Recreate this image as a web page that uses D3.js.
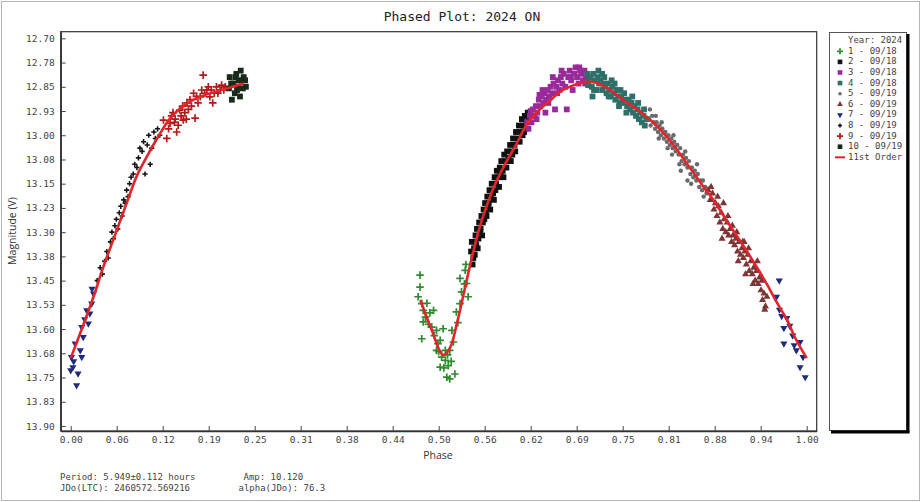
<!DOCTYPE html>
<html><head><meta charset="utf-8">
<script src="https://cdn.jsdelivr.net/npm/d3@7"></script>
<style>
html,body{margin:0;padding:0;background:#fff;}
svg{display:block;}
</style></head>
<body>
<script>
// ---------- DATA ----------
const titleText = "Phased Plot: 2024 ON";
const xTickValues = [0,0.0625,0.125,0.1875,0.25,0.3125,0.375,0.4375,0.5,0.5625,0.625,0.6875,0.75,0.8125,0.875,0.9375,1.0];
const xTickLabels = ["0.00","0.06","0.12","0.19","0.25","0.31","0.38","0.44","0.50","0.56","0.62","0.69","0.75","0.81","0.88","0.94","1.00"];
const yTickValues = [12.70,12.775,12.85,12.925,13.00,13.075,13.15,13.225,13.30,13.375,13.45,13.525,13.60,13.675,13.75,13.825,13.90];
const yTickLabels = ["12.70","12.78","12.85","12.93","13.00","13.08","13.15","13.23","13.30","13.38","13.45","13.53","13.60","13.68","13.75","13.83","13.90"];
const seriesNames = ["1 - 09/18","2 - 09/18","3 - 09/18","4 - 09/18","5 - 09/19","6 - 09/19","7 - 09/19","8 - 09/19","9 - 09/19","10 - 09/19"];
const fitName = "11st Order";
const legendTitle = "Year: 2024";
const footerLines = [["Period: 5.949\u00b10.112 hours","Amp: 10.120"],["JDo(LTC): 2460572.569216","alpha(JDo): 76.3"]];

const s1 = [[0.4746,13.433],[0.4746,13.47],[0.472,13.50],[0.477,13.521],[0.479,13.542],[0.482,13.563],[0.479,13.578],[0.477,13.63],[0.488,13.55],[0.493,13.542],[0.4905,13.594],[0.497,13.604],[0.502,13.635],[0.497,13.666],[0.504,13.687],[0.502,13.718],[0.509,13.697],[0.511,13.749],[0.515,13.754],[0.522,13.739],[0.515,13.666],[0.518,13.604],[0.524,13.547],[0.529,13.521],[0.531,13.485],[0.529,13.443],[0.536,13.418],[0.538,13.459],[0.540,13.50],[0.506,13.599],[0.509,13.666],[0.513,13.713],[0.499,13.645],[0.484,13.52],[0.486,13.585],[0.494,13.62],[0.507,13.72],[0.52,13.64],[0.526,13.58],[0.535,13.46],[0.512,13.68],[0.5,13.67],[0.517,13.70],[0.537,13.40]];
const s2 = [[0.544,13.36],[0.545,13.33],[0.547,13.38],[0.548,13.35],[0.550,13.31],[0.551,13.34],[0.552,13.29],[0.554,13.32],[0.555,13.27],[0.557,13.29],[0.558,13.25],[0.560,13.27],[0.561,13.23],[0.563,13.21],[0.564,13.24],[0.566,13.19],[0.568,13.21],[0.569,13.17],[0.571,13.19],[0.572,13.15],[0.574,13.18],[0.576,13.13],[0.578,13.15],[0.579,13.11],[0.581,13.13],[0.583,13.10],[0.585,13.08],[0.587,13.11],[0.589,13.06],[0.591,13.08],[0.593,13.05],[0.595,13.07],[0.597,13.03],[0.599,13.05],[0.601,13.01],[0.603,13.03],[0.605,12.99],[0.607,13.01],[0.609,12.97],[0.611,12.99],[0.613,12.95],[0.615,12.97],[0.617,12.94],[0.619,12.96],[0.621,12.93],[0.577,13.17],[0.562,13.26],[0.556,13.30],[0.549,13.37],[0.546,13.40],[0.553,13.35],[0.559,13.31],[0.565,13.25],[0.570,13.23],[0.575,13.20],[0.582,13.16],[0.588,13.13],[0.592,13.10],[0.598,13.08],[0.604,13.05],[0.610,13.02],[0.614,13.00],[0.618,12.98],[0.622,12.95],[0.550,13.33],[0.567,13.22],[0.584,13.12],[0.600,13.06],[0.616,12.99]];
const s3 = [[0.620,12.96],[0.622,12.98],[0.624,12.94],[0.626,12.96],[0.628,12.92],[0.630,12.94],[0.632,12.91],[0.634,12.93],[0.636,12.89],[0.638,12.91],[0.640,12.88],[0.642,12.90],[0.644,12.87],[0.646,12.89],[0.648,12.86],[0.650,12.88],[0.652,12.85],[0.654,12.87],[0.656,12.84],[0.658,12.92],[0.660,12.85],[0.662,12.83],[0.664,12.86],[0.666,12.82],[0.668,12.84],[0.670,12.81],[0.672,12.85],[0.674,12.92],[0.676,12.82],[0.678,12.80],[0.680,12.83],[0.682,12.86],[0.684,12.81],[0.686,12.79],[0.688,12.82],[0.690,12.84],[0.692,12.80],[0.694,12.81],[0.696,12.83],[0.698,12.80],[0.700,12.82],[0.645,12.93],[0.633,12.95],[0.625,12.925],[0.637,12.875],[0.649,12.90],[0.661,12.87],[0.667,12.80],[0.679,12.82],[0.691,12.79],[0.699,12.84],[0.655,12.82],[0.641,12.86]];
const s4 = [[0.702,12.81],[0.704,12.83],[0.706,12.82],[0.708,12.85],[0.710,12.81],[0.712,12.83],[0.714,12.86],[0.716,12.82],[0.718,12.84],[0.720,12.83],[0.722,12.86],[0.724,12.84],[0.726,12.85],[0.728,12.87],[0.730,12.84],[0.732,12.86],[0.734,12.88],[0.736,12.85],[0.738,12.87],[0.740,12.89],[0.742,12.86],[0.744,12.88],[0.746,12.90],[0.748,12.88],[0.750,12.90],[0.752,12.87],[0.754,12.89],[0.756,12.91],[0.758,12.89],[0.760,12.92],[0.762,12.90],[0.764,12.93],[0.766,12.91],[0.768,12.94],[0.770,12.92],[0.772,12.95],[0.774,12.93],[0.776,12.96],[0.778,12.94],[0.780,12.97],[0.709,12.88],[0.722,12.81],[0.703,12.845],[0.711,12.86],[0.717,12.80],[0.725,12.82],[0.731,12.88],[0.739,12.84],[0.747,12.86],[0.755,12.93],[0.763,12.88],[0.771,12.90],[0.779,12.92],[0.783,12.95],[0.745,12.91],[0.735,12.83]];
const s5 = [[0.786,12.95],[0.788,12.97],[0.790,12.94],[0.792,12.96],[0.794,12.98],[0.796,12.96],[0.798,12.99],[0.800,12.97],[0.802,13.00],[0.804,12.98],[0.806,13.01],[0.808,12.99],[0.810,13.02],[0.812,13.00],[0.814,13.03],[0.816,13.01],[0.818,13.04],[0.820,13.02],[0.822,13.05],[0.824,13.03],[0.826,13.06],[0.828,13.04],[0.830,13.08],[0.832,13.06],[0.834,13.09],[0.836,13.07],[0.838,13.10],[0.840,13.08],[0.842,13.12],[0.844,13.10],[0.846,13.13],[0.848,13.11],[0.850,13.14],[0.852,13.12],[0.854,13.16],[0.856,13.14],[0.858,13.17],[0.860,13.19],[0.862,13.16],[0.838,13.14],[0.829,13.11],[0.787,12.92],[0.795,12.94],[0.803,12.96],[0.811,13.04],[0.819,13.00],[0.827,13.09],[0.835,13.05],[0.843,13.15],[0.851,13.09],[0.859,13.14],[0.864,13.18],[0.799,13.01],[0.817,13.06]];
const s6 = [[0.866,13.17],[0.869,13.20],[0.872,13.18],[0.874,13.23],[0.876,13.21],[0.878,13.25],[0.880,13.22],[0.882,13.27],[0.884,13.24],[0.886,13.29],[0.888,13.26],[0.890,13.30],[0.892,13.27],[0.894,13.31],[0.896,13.29],[0.898,13.33],[0.900,13.31],[0.902,13.34],[0.904,13.32],[0.906,13.36],[0.908,13.33],[0.910,13.37],[0.912,13.35],[0.914,13.38],[0.916,13.36],[0.918,13.40],[0.920,13.37],[0.922,13.42],[0.924,13.39],[0.926,13.43],[0.928,13.41],[0.930,13.45],[0.932,13.42],[0.934,13.46],[0.936,13.44],[0.938,13.48],[0.940,13.51],[0.942,13.49],[0.944,13.53],[0.946,13.50],[0.887,13.21],[0.913,13.33],[0.870,13.16],[0.879,13.19],[0.885,13.32],[0.893,13.25],[0.899,13.28],[0.907,13.39],[0.915,13.33],[0.921,13.35],[0.927,13.46],[0.933,13.39],[0.939,13.45],[0.943,13.54],[0.905,13.30],[0.917,13.43]];
const s7 = [[0.9627,13.45],[0.959,13.50],[0.963,13.54],[0.973,13.566],[0.969,13.597],[0.981,13.62],[0.991,13.64],[0.986,13.666],[0.995,13.687],[0.991,13.718],[0.998,13.749],[0.969,13.645],[0.977,13.59],[0.983,13.65],[0.966,13.56],[0.001,13.687],[0.003,13.718],[0.0,13.728],[0.010,13.738],[0.008,13.774],[0.006,13.645],[0.015,13.687],[0.017,13.625],[0.015,13.594],[0.024,13.583],[0.026,13.552],[0.0217,13.542],[0.0285,13.521],[0.031,13.49],[0.029,13.475],[0.013,13.666],[0.004,13.70],[0.019,13.57]];
const s8 = [[0.036,13.45],[0.040,13.41],[0.043,13.43],[0.046,13.39],[0.049,13.36],[0.051,13.38],[0.054,13.33],[0.056,13.30],[0.058,13.32],[0.060,13.28],[0.062,13.26],[0.064,13.29],[0.066,13.24],[0.068,13.22],[0.070,13.25],[0.072,13.20],[0.074,13.21],[0.076,13.17],[0.078,13.19],[0.080,13.15],[0.082,13.13],[0.085,13.12],[0.087,13.09],[0.090,13.10],[0.092,13.07],[0.094,13.04],[0.097,13.05],[0.099,13.02],[0.101,13.12],[0.104,13.03],[0.106,13.00],[0.108,13.09],[0.110,13.04],[0.113,12.99],[0.115,13.01],[0.118,12.98],[0.121,13.00]];
const s9 = [[0.126,12.953],[0.1305,13.01],[0.133,12.98],[0.135,12.963],[0.137,12.94],[0.139,12.93],[0.141,12.96],[0.144,12.99],[0.146,12.969],[0.148,12.922],[0.150,12.94],[0.152,12.91],[0.153,12.953],[0.155,12.93],[0.158,12.90],[0.160,12.92],[0.162,12.89],[0.164,12.91],[0.167,12.87],[0.169,12.947],[0.171,12.88],[0.173,12.90],[0.176,12.881],[0.178,12.86],[0.180,12.814],[0.182,12.87],[0.185,12.86],[0.187,12.85],[0.189,12.881],[0.191,12.86],[0.193,12.90],[0.195,12.87],[0.198,12.85],[0.200,12.87],[0.203,12.86],[0.205,12.845],[0.208,12.86],[0.210,12.85],[0.142,12.95],[0.157,12.95]];
const s10 = [[0.215,12.855],[0.216,12.82],[0.218,12.84],[0.219,12.89],[0.221,12.84],[0.223,12.87],[0.224,12.82],[0.225,12.81],[0.227,12.85],[0.228,12.83],[0.230,12.88],[0.231,12.80],[0.232,12.83],[0.234,12.855],[0.235,12.82],[0.237,12.83],[0.238,12.85],[0.226,12.86]];
const fitSeg1 = [[0.0,13.69],[0.015,13.60],[0.031,13.50],[0.044,13.41],[0.06,13.31],[0.076,13.21],[0.09,13.125],[0.105,13.06],[0.12,13.00],[0.135,12.948],[0.15,12.915],[0.167,12.89],[0.183,12.875],[0.198,12.865],[0.215,12.853],[0.235,12.84]];
const fitSeg2 = [[0.475,13.51],[0.49,13.60],[0.506,13.68],[0.515,13.66],[0.525,13.58],[0.535,13.48],[0.545,13.38],[0.555,13.29],[0.565,13.22],[0.575,13.16],[0.59,13.09],[0.605,13.03],[0.62,12.965],[0.635,12.925],[0.65,12.895],[0.665,12.865],[0.68,12.848],[0.70,12.835],[0.715,12.838],[0.733,12.86],[0.75,12.89],[0.778,12.934],[0.80,12.98],[0.819,13.03],[0.841,13.10],[0.86,13.16],[0.873,13.20],[0.89,13.26],[0.909,13.325],[0.93,13.40],[0.9457,13.46],[0.96,13.52],[0.973,13.57],[0.985,13.63],[1.0,13.69]];

// ---------- STYLE ----------
const W = 921, H = 502;
const plot = {left: 60.7, right: 816.7, top: 31.7, bottom: 431};
const mono = "'DejaVu Sans Mono', 'Liberation Mono', monospace";
const sans = "'Open Sans', 'Noto Sans', sans-serif";
const seriesStyle = [
  {sym: "plus", color: "#2e8b2e"},
  {sym: "square", color: "#111111"},
  {sym: "square", color: "#9a2a9a"},
  {sym: "square", color: "#2f6f68"},
  {sym: "dot", color: "#6a6a6a"},
  {sym: "tri", color: "#7d3535"},
  {sym: "tridown", color: "#1f2a7a"},
  {sym: "smallplus", color: "#151515"},
  {sym: "plus", color: "#b41a1a"},
  {sym: "square", color: "#1a2a1a"}
];
const seriesData = [s1,s2,s3,s4,s5,s6,s7,s8,s9,s10];

const svg = d3.select("body").append("svg").attr("width", W).attr("height", H);
svg.append("rect").attr("x",0).attr("y",0).attr("width",W).attr("height",H).attr("fill","#fff");
svg.append("rect").attr("x",1.5).attr("y",1.5).attr("width",W-3).attr("height",H-3)
  .attr("fill","none").attr("stroke","#b5b5b5").attr("stroke-width",1);

const x = d3.scaleLinear().domain([-0.0136, 1.0136]).range([plot.left, plot.right]);
const y = d3.scaleLinear().domain([12.6795, 13.9155]).range([plot.top, plot.bottom]);

// title
svg.append("text").attr("x", 462).attr("y", 17).attr("text-anchor","middle")
  .attr("dominant-baseline","middle").attr("font-family", mono).attr("font-size", 13)
  .attr("fill","#222").text(titleText);

// clip
svg.append("clipPath").attr("id","clip").append("rect")
  .attr("x",plot.left).attr("y",plot.top).attr("width",plot.right-plot.left).attr("height",plot.bottom-plot.top);

// frame
svg.append("rect").attr("x",plot.left).attr("y",plot.top).attr("width",plot.right-plot.left)
  .attr("height",plot.bottom-plot.top).attr("fill","none").attr("stroke","#333").attr("stroke-width",1.2);

// axes
const xAxis = d3.axisBottom(x).tickValues(xTickValues).tickFormat((d,i)=>xTickLabels[i])
  .tickSizeInner(-5).tickSizeOuter(0).tickPadding(5);
const gx = svg.append("g").attr("transform",`translate(0,${plot.bottom})`).call(xAxis);
const yAxis = d3.axisLeft(y).tickValues(yTickValues).tickFormat((d,i)=>yTickLabels[i])
  .tickSizeInner(-5).tickSizeOuter(0).tickPadding(6);
const gy = svg.append("g").attr("transform",`translate(${plot.left},0)`).call(yAxis);
[gx,gy].forEach(g=>{
  g.selectAll(".domain").attr("stroke","#333").attr("stroke-width",1.5);
  g.selectAll(".tick line").attr("stroke","#444");
  g.selectAll(".tick text").attr("font-family",mono).attr("font-size",9.5).attr("fill","#444");
});

// axis titles
svg.append("text").attr("x",438).attr("y",456).attr("text-anchor","middle").attr("dominant-baseline","middle")
  .attr("font-family",sans).attr("font-size",10.5).attr("fill","#333").text("Phase");
svg.append("text").attr("transform","translate(13,231) rotate(-90)").attr("text-anchor","middle")
  .attr("dominant-baseline","middle").attr("font-family",sans).attr("font-size",10.5).attr("fill","#333").text("Magnitude (V)");

// markers
function drawMarker(g, sym, color, cx, cy, scale){
  const k = scale || 1;
  if (sym === "plus" || sym === "smallplus") {
    const r = (sym === "plus" ? 3.8 : 2.6) * k;
    g.append("path").attr("d",`M${cx-r},${cy}H${cx+r}M${cx},${cy-r}V${cy+r}`)
      .attr("stroke",color).attr("stroke-width", sym==="plus"?1.7:1.6).attr("fill","none");
  } else if (sym === "square") {
    const s = 5.8*k;
    g.append("rect").attr("x",cx-s/2).attr("y",cy-s/2).attr("width",s).attr("height",s).attr("fill",color);
  } else if (sym === "dot") {
    g.append("circle").attr("cx",cx).attr("cy",cy).attr("r",2.2*k).attr("fill",color);
  } else if (sym === "tri") {
    g.append("path").attr("d",d3.symbol(d3.symbolTriangle, 22*k*k)()).attr("transform",`translate(${cx},${cy})`).attr("fill",color);
  } else if (sym === "tridown") {
    g.append("path").attr("d",d3.symbol(d3.symbolTriangle, 22*k*k)()).attr("transform",`translate(${cx},${cy}) rotate(180)`).attr("fill",color);
  }
}

const gPts = svg.append("g").attr("clip-path","url(#clip)");
seriesData.forEach((data, i) => {
  const st = seriesStyle[i];
  const g = gPts.append("g").attr("class","series-"+(i+1));
  data.forEach(d => drawMarker(g, st.sym, st.color, x(d[0]), y(d[1])));
});

// fit line
const line = d3.line().x(d=>x(d[0])).y(d=>y(d[1])).curve(d3.curveCatmullRom.alpha(0.5));
[fitSeg1, fitSeg2].forEach(seg => {
  gPts.append("path").datum(seg).attr("d", line).attr("fill","none")
    .attr("stroke","#e3242b").attr("stroke-width",2.6).attr("stroke-linejoin","round");
});

// legend
const lg = svg.append("g");
lg.append("rect").attr("x",829.5).attr("y",32.5).attr("width",77).attr("height",398).attr("fill","#fff")
  .attr("stroke","#555").attr("stroke-width",1);
lg.append("line").attr("x1",908).attr("y1",34).attr("x2",908).attr("y2",432.5).attr("stroke","#000").attr("stroke-width",3);
lg.append("line").attr("x1",831).attr("y1",432).attr("x2",909.5).attr("y2",432).attr("stroke","#000").attr("stroke-width",3);
const legY0 = 40.7, legDy = 10.6;
lg.append("text").attr("x",848).attr("y",legY0).attr("dominant-baseline","middle").attr("font-family",mono)
  .attr("font-size",9).attr("fill","#444").text(legendTitle);
seriesNames.forEach((n,i)=>{
  const yy = legY0 + (i+1)*legDy;
  drawMarker(lg, seriesStyle[i].sym, seriesStyle[i].color, 840, yy, 0.8);
  lg.append("text").attr("x",848).attr("y",yy).attr("dominant-baseline","middle").attr("font-family",mono)
    .attr("font-size",9).attr("fill","#444").text(n);
});
{
  const yy = legY0 + 11*legDy;
  lg.append("line").attr("x1",835).attr("x2",845).attr("y1",yy).attr("y2",yy).attr("stroke","#e3242b").attr("stroke-width",2);
  lg.append("text").attr("x",848).attr("y",yy).attr("dominant-baseline","middle").attr("font-family",mono)
    .attr("font-size",9).attr("fill","#444").text(fitName);
}

// footer
const footX = [60, 243.5];
const footXb = [60, 238.5];
footerLines.forEach((row, r) => {
  row.forEach((t, c) => {
    svg.append("text").attr("x", r===0?footX[c]:footXb[c]).attr("y", 477 + r*11.5)
      .attr("dominant-baseline","middle").attr("font-family",mono).attr("font-size",9)
      .attr("fill","#444").text(t);
  });
});
</script>
</body></html>
